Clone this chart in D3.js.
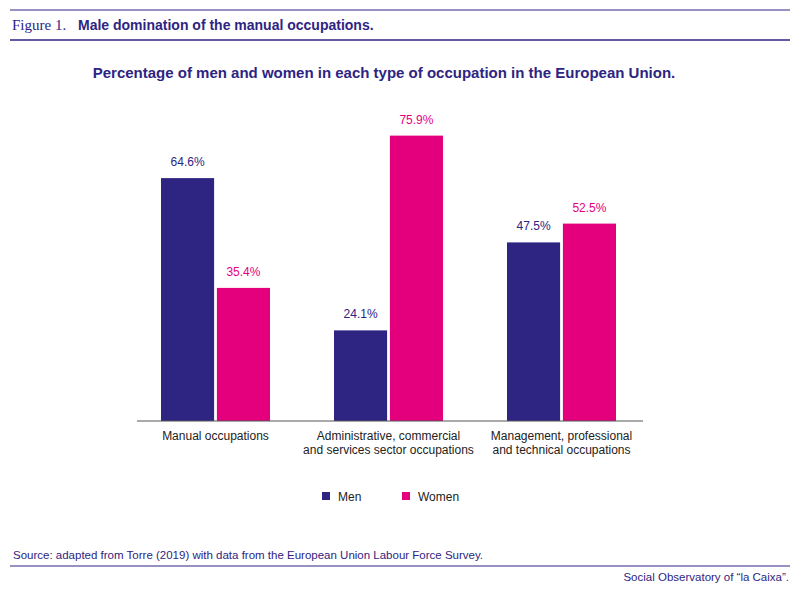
<!DOCTYPE html>
<html><head><meta charset="utf-8">
<script src="https://cdn.jsdelivr.net/npm/d3@7"></script>
<style>body{margin:0;background:#fff}text{font-family:"Liberation Sans",Arial,sans-serif}</style>
</head><body><div id="chart"></div>
<script>
// Data
var categories = [["Manual occupations"], ["Administrative, commercial", "and services sector occupations"], ["Management, professional", "and technical occupations"]];
var men = [64.6, 24.1, 47.5];
var women = [35.4, 75.9, 52.5];
var seriesNames = ["Men", "Women"];

var navy = "#2e2482", pink = "#e4007d";
var svg = d3.select("#chart").append("svg").attr("width", 800).attr("height", 591);

// Header rules and titles
[10, 40, 566].forEach(function (y) {
  svg.append("line").attr("x1", 10).attr("x2", 790).attr("y1", y).attr("y2", y)
    .attr("stroke", navy).attr("stroke-width", y == 40 ? 1.5 : 1.2);
});
svg.append("text").attr("x", 12).attr("y", 30).style("font-family", "Liberation Serif,serif")
  .attr("font-size", 15).attr("fill", navy).text("Figure 1.");
svg.append("text").attr("x", 78).attr("y", 30).attr("font-size", 14).attr("font-weight", "bold")
  .attr("fill", navy).text("Male domination of the manual occupations.");
svg.append("text").attr("x", 384).attr("y", 78).attr("text-anchor", "middle").attr("font-size", 15)
  .attr("font-weight", "bold").attr("fill", navy)
  .text("Percentage of men and women in each type of occupation in the European Union.");

// Scales
var x = d3.scaleBand().domain(d3.range(3)).range([129, 648]).paddingInner(0).paddingOuter(0);
var xs = d3.scaleBand().domain([0, 1]).range([x.bandwidth() / 2 - 54.5, x.bandwidth() / 2 + 54.5]).paddingInner(0.05);
var y = d3.scaleLinear().domain([0, 100]).range([421, 45]);

var groups = svg.selectAll("g.grp").data(d3.range(3)).enter().append("g")
  .attr("transform", function (i) { return "translate(" + x(i) + ",0)"; });
[men, women].forEach(function (vals, s) {
  var col = s ? pink : navy;
  groups.append("rect").attr("x", xs(s)).attr("width", xs.bandwidth())
    .attr("y", function (i) { return y(vals[i]); })
    .attr("height", function (i) { return y(0) - y(vals[i]); }).attr("fill", col);
  groups.append("text").attr("x", xs(s) + xs.bandwidth() / 2)
    .attr("y", function (i) { return y(vals[i]) - 12; }).attr("text-anchor", "middle")
    .attr("font-size", 12).attr("fill", col)
    .text(function (i) { return vals[i].toFixed(1) + "%"; });
});

// Axis line and labels
svg.append("line").attr("x1", 137).attr("x2", 643).attr("y1", 421).attr("y2", 421).attr("stroke", "#555");
groups.each(function (i) {
  var t = d3.select(this).append("text").attr("text-anchor", "middle").attr("font-size", 12).attr("fill", "#222");
  categories[i].forEach(function (l, k) {
    t.append("tspan").attr("x", x.bandwidth() / 2).attr("y", 440 + k * 14).text(l);
  });
});

// Legend
var lx = [322, 402];
seriesNames.forEach(function (n, s) {
  svg.append("rect").attr("x", lx[s]).attr("y", 492).attr("width", 8).attr("height", 8).attr("fill", s ? pink : navy);
  svg.append("text").attr("x", lx[s] + 16).attr("y", 501).attr("font-size", 12).attr("fill", "#222").text(n);
});

// Footer
svg.append("text").attr("x", 13).attr("y", 559).attr("font-size", 11.5).attr("fill", navy)
  .text("Source: adapted from Torre (2019) with data from the European Union Labour Force Survey.");
svg.append("text").attr("x", 789).attr("y", 581).attr("text-anchor", "end").attr("font-size", 11.5).attr("fill", navy)
  .text("Social Observatory of \u201cla Caixa\u201d.");
</script></body></html>
